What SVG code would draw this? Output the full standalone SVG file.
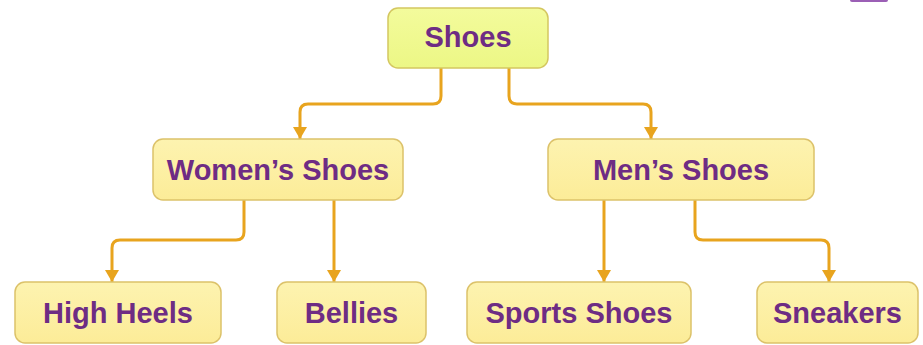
<svg xmlns="http://www.w3.org/2000/svg" width="923" height="345" viewBox="0 0 923 345">
<style>
.box{fill:url(#gy);stroke:#dcc26a;stroke-width:1.5}
.root{fill:url(#gg);stroke:#d4c760;stroke-width:1.5}
.t{font-family:"Liberation Sans",Arial,sans-serif;font-weight:bold;font-size:29px;fill:#6e2c84;text-anchor:middle}
.c{fill:none;stroke:#e8a41e;stroke-width:3;stroke-linejoin:round;marker-end:url(#ah)}
</style>
<defs>
<linearGradient id="gy" x1="0" y1="0" x2="0" y2="1"><stop offset="0" stop-color="#fdf3b0"/><stop offset="1" stop-color="#fcec98"/></linearGradient>
<linearGradient id="gg" x1="0" y1="0" x2="0" y2="1"><stop offset="0" stop-color="#f3fb9c"/><stop offset="1" stop-color="#ecf785"/></linearGradient>
<marker id="ah" markerUnits="userSpaceOnUse" markerWidth="16" markerHeight="14" viewBox="0 0 16 14" refX="8" refY="13" orient="0">
<path d="M1 1 L15 1 L8 13 Z" fill="#e8a41e"/>
</marker>
</defs>
<rect x="850" y="-4" width="38" height="6" rx="2" fill="#9b5fb5"/>
<g id="connectors">
<path class="c" d="M441 68 V96 Q441 104 433 104 H308 Q300 104 300 112 V139"/>
<path class="c" d="M509 68 V96 Q509 104 517 104 H643 Q651 104 651 112 V139"/>
<path class="c" d="M244 200 V232 Q244 240 236 240 H120 Q112 240 112 248 V282"/>
<path class="c" d="M334 200 V282"/>
<path class="c" d="M604 200 V282"/>
<path class="c" d="M695 200 V232 Q695 240 703 240 H821 Q829 240 829 248 V282"/>
</g>
<g id="shoes"><rect class="root" x="388" y="8" width="160" height="60" rx="10"/><text class="t" x="468" y="47">Shoes</text></g>
<g id="womens"><rect class="box" x="153" y="139" width="250" height="61" rx="10"/><text class="t" x="278" y="180">Women’s Shoes</text></g>
<g id="mens"><rect class="box" x="548" y="139" width="266" height="61" rx="10"/><text class="t" x="681" y="180">Men’s Shoes</text></g>
<g id="highheels"><rect class="box" x="15" y="282" width="206" height="61" rx="10"/><text class="t" x="118" y="323">High Heels</text></g>
<g id="bellies"><rect class="box" x="277" y="282" width="149" height="61" rx="10"/><text class="t" x="351.5" y="323">Bellies</text></g>
<g id="sports"><rect class="box" x="467" y="282" width="224" height="61" rx="10"/><text class="t" x="579" y="323">Sports Shoes</text></g>
<g id="sneakers"><rect class="box" x="757" y="282" width="161" height="61" rx="10"/><text class="t" x="837.5" y="323">Sneakers</text></g>
</svg>
